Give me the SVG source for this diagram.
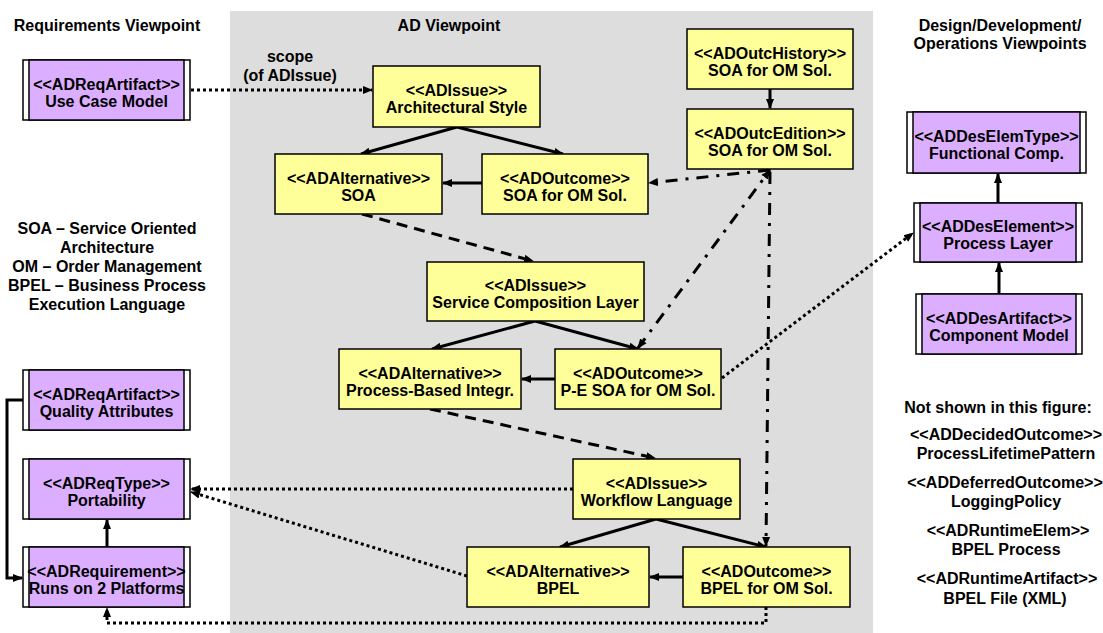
<svg xmlns="http://www.w3.org/2000/svg" width="1103" height="633" viewBox="0 0 1103 633">
<style>
.t{font-family:"Liberation Sans",Arial,sans-serif;font-weight:bold;font-size:16px;text-anchor:middle;fill:#000}
.y{fill:#FFFF99;stroke:#000;stroke-width:1.5}
.pw{fill:#fff;stroke:#000;stroke-width:1.5}
.pi{fill:#DCAEFF;stroke:#000;stroke-width:1.5}
.s{fill:none;stroke:#000;stroke-width:3}
.dot{fill:none;stroke:#000;stroke-width:3;stroke-dasharray:3 3}
.dash{fill:none;stroke:#000;stroke-width:3;stroke-dasharray:11 7}
.dd{fill:none;stroke:#000;stroke-width:3;stroke-dasharray:12 8 3 8}
</style>
<defs>
<marker id="a" markerUnits="userSpaceOnUse" markerWidth="10" markerHeight="10" viewBox="0 0 10 10" refX="9" refY="5" orient="auto-start-reverse">
<path d="M0,1 L10,5 L0,9 z" fill="#000"/>
</marker>
</defs>
<rect x="230" y="11" width="643" height="622" fill="#DDDDDD"/>
<g id="titles">
<text class="t" x="107" y="31">Requirements Viewpoint</text>
<text class="t" x="449" y="31">AD Viewpoint</text>
<text class="t" x="1000" y="31">Design/Development/</text>
<text class="t" x="1000" y="49">Operations Viewpoints</text>
<text class="t" x="290" y="62">scope</text>
<text class="t" x="290" y="81">(of ADIssue)</text>
</g>
<g id="legend">
<text class="t" x="107" y="234">SOA – Service Oriented</text>
<text class="t" x="107" y="253">Architecture</text>
<text class="t" x="107" y="272">OM – Order Management</text>
<text class="t" x="107" y="291">BPEL – Business Process</text>
<text class="t" x="107" y="310">Execution Language</text>
</g>
<g id="notshown">
<text class="t" x="998" y="413">Not shown in this figure:</text>
<text class="t" x="1006" y="440">&lt;&lt;ADDecidedOutcome&gt;&gt;</text>
<text class="t" x="1006" y="459">ProcessLifetimePattern</text>
<text class="t" x="1005" y="488">&lt;&lt;ADDeferredOutcome&gt;&gt;</text>
<text class="t" x="1006" y="507">LoggingPolicy</text>
<text class="t" x="1008" y="536">&lt;&lt;ADRuntimeElem&gt;&gt;</text>
<text class="t" x="1006" y="555">BPEL Process</text>
<text class="t" x="1007" y="584">&lt;&lt;ADRuntimeArtifact&gt;&gt;</text>
<text class="t" x="1005" y="604">BPEL File (XML)</text>
</g>
<g id="connectors">
<path class="dot" d="M191,90 L372,90" marker-end="url(#a)"/>
<path class="s" d="M457,127 L361,154" marker-end="url(#a)"/>
<path class="s" d="M457,127 L563,154" marker-end="url(#a)"/>
<path class="s" d="M482,183 L443,183" marker-end="url(#a)"/>
<path class="s" d="M770,89 L770,108" marker-end="url(#a)"/>
<path class="dd" d="M770,170 L649,183" marker-end="url(#a)"/>
<path class="dd" d="M638,348 L770,170" marker-start="url(#a)" marker-end="url(#a)"/>
<path class="dd" d="M770,172 L766,546" marker-end="url(#a)"/>
<path class="dash" d="M362,214 L533,261" marker-end="url(#a)"/>
<path class="s" d="M535,321 L432,349" marker-end="url(#a)"/>
<path class="s" d="M535,321 L638,349" marker-end="url(#a)"/>
<path class="s" d="M555,379 L522,379" marker-end="url(#a)"/>
<path class="dot" d="M722,378 L913,233" marker-end="url(#a)"/>
<path class="dash" d="M430,409 L655,458" marker-end="url(#a)"/>
<path class="s" d="M656,519 L560,547" marker-end="url(#a)"/>
<path class="s" d="M656,519 L766,547" marker-end="url(#a)"/>
<path class="s" d="M683,577 L650,577" marker-end="url(#a)"/>
<path class="dot" d="M573,489 L191,489" marker-end="url(#a)"/>
<path class="dot" d="M467,576 L191,492" marker-end="url(#a)"/>
<path class="dot" d="M766,607 L766,623 L107,623 L107,608" marker-end="url(#a)"/>
<path class="s" d="M107,547 L107,520" marker-end="url(#a)"/>
<path class="s" d="M23,400 L7,400 L7,578 L22,578" marker-end="url(#a)"/>
<path class="s" d="M998,203 L998,174" marker-end="url(#a)"/>
<path class="s" d="M999,294 L999,263" marker-end="url(#a)"/>
</g>
<g id="ucm"><rect class="pw" x="23" y="60" width="167" height="60"/><rect class="pi" x="29" y="60" width="155" height="60"/><text class="t" x="106.5" y="90">&lt;&lt;ADReqArtifact&gt;&gt;</text><text class="t" x="106.5" y="107">Use Case Model</text></g>
<g id="qa"><rect class="pw" x="23" y="370" width="167" height="60"/><rect class="pi" x="29" y="370" width="155" height="60"/><text class="t" x="106.5" y="400">&lt;&lt;ADReqArtifact&gt;&gt;</text><text class="t" x="106.5" y="417">Quality Attributes</text></g>
<g id="port"><rect class="pw" x="23" y="459" width="167" height="60"/><rect class="pi" x="29" y="459" width="155" height="60"/><text class="t" x="106.5" y="489">&lt;&lt;ADReqType&gt;&gt;</text><text class="t" x="106.5" y="506">Portability</text></g>
<g id="runs"><rect class="pw" x="23" y="547" width="167" height="60"/><rect class="pi" x="29" y="547" width="155" height="60"/><text class="t" x="106.5" y="577">&lt;&lt;ADRequirement&gt;&gt;</text><text class="t" x="106.5" y="594">Runs on 2 Platforms</text></g>
<g id="func"><rect class="pw" x="907" y="112" width="179" height="61"/><rect class="pi" x="913" y="112" width="167" height="61"/><text class="t" x="996.5" y="142">&lt;&lt;ADDesElemType&gt;&gt;</text><text class="t" x="996.5" y="159">Functional Comp.</text></g>
<g id="proc"><rect class="pw" x="914" y="203" width="168" height="59"/><rect class="pi" x="920" y="203" width="156" height="59"/><text class="t" x="998" y="232">&lt;&lt;ADDesElement&gt;&gt;</text><text class="t" x="998" y="249">Process Layer</text></g>
<g id="comp"><rect class="pw" x="916" y="294" width="166" height="60"/><rect class="pi" x="922" y="294" width="154" height="60"/><text class="t" x="999" y="324">&lt;&lt;ADDesArtifact&gt;&gt;</text><text class="t" x="999" y="341">Component Model</text></g>
<g id="arch"><rect class="y" x="373" y="66" width="167" height="61"/><text class="t" x="456.5" y="96">&lt;&lt;ADIssue&gt;&gt;</text><text class="t" x="456.5" y="113">Architectural Style</text></g>
<g id="soa"><rect class="y" x="275" y="154" width="167" height="60"/><text class="t" x="358.5" y="184">&lt;&lt;ADAlternative&gt;&gt;</text><text class="t" x="358.5" y="201">SOA</text></g>
<g id="soaom"><rect class="y" x="482" y="154" width="166" height="60"/><text class="t" x="565" y="184">&lt;&lt;ADOutcome&gt;&gt;</text><text class="t" x="565" y="201">SOA for OM Sol.</text></g>
<g id="hist"><rect class="y" x="687" y="29" width="166" height="60"/><text class="t" x="770" y="59">&lt;&lt;ADOutcHistory&gt;&gt;</text><text class="t" x="770" y="76">SOA for OM Sol.</text></g>
<g id="edit"><rect class="y" x="687" y="109" width="166" height="60"/><text class="t" x="770" y="139">&lt;&lt;ADOutcEdition&gt;&gt;</text><text class="t" x="770" y="156">SOA for OM Sol.</text></g>
<g id="scl"><rect class="y" x="427" y="262" width="217" height="59"/><text class="t" x="535.5" y="291">&lt;&lt;ADIssue&gt;&gt;</text><text class="t" x="535.5" y="308">Service Composition Layer</text></g>
<g id="pbi"><rect class="y" x="339" y="349" width="182" height="60"/><text class="t" x="430" y="379">&lt;&lt;ADAlternative&gt;&gt;</text><text class="t" x="430" y="396">Process-Based Integr.</text></g>
<g id="pesoa"><rect class="y" x="555" y="349" width="166" height="60"/><text class="t" x="638" y="379">&lt;&lt;ADOutcome&gt;&gt;</text><text class="t" x="638" y="396">P-E SOA for OM Sol.</text></g>
<g id="wfl"><rect class="y" x="573" y="459" width="167" height="60"/><text class="t" x="656.5" y="489">&lt;&lt;ADIssue&gt;&gt;</text><text class="t" x="656.5" y="506">Workflow Language</text></g>
<g id="bpel"><rect class="y" x="467" y="547" width="182" height="60"/><text class="t" x="558" y="577">&lt;&lt;ADAlternative&gt;&gt;</text><text class="t" x="558" y="594">BPEL</text></g>
<g id="bpelom"><rect class="y" x="683" y="547" width="167" height="60"/><text class="t" x="766.5" y="577">&lt;&lt;ADOutcome&gt;&gt;</text><text class="t" x="766.5" y="594">BPEL for OM Sol.</text></g>
</svg>
